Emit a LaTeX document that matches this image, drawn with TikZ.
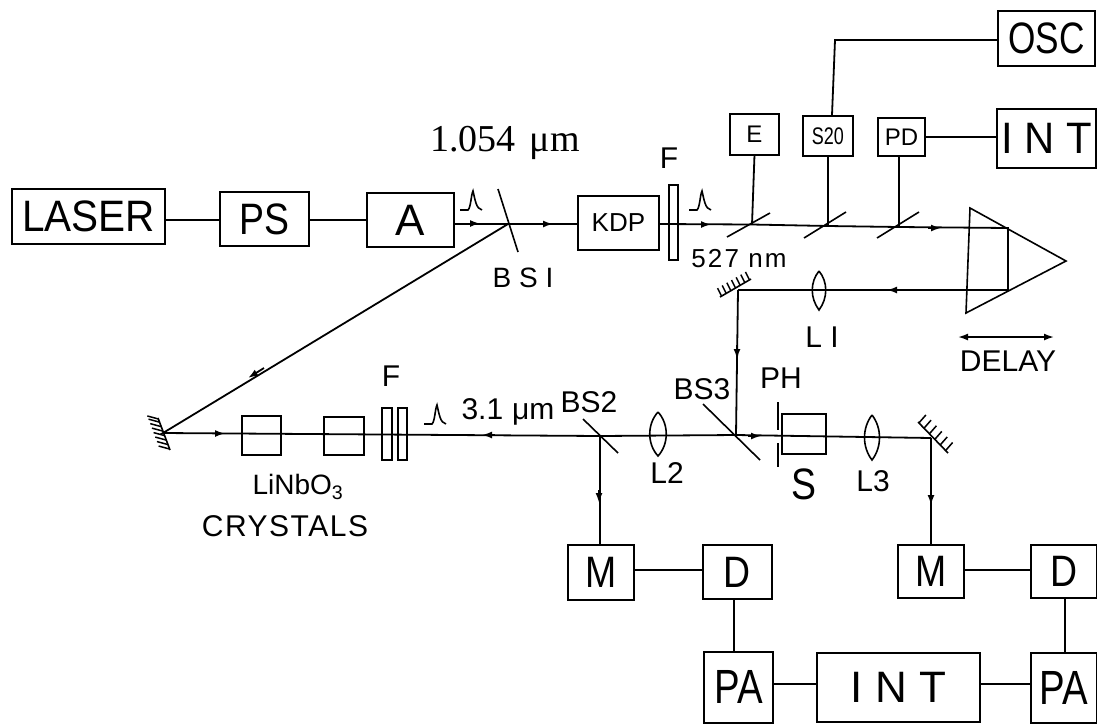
\documentclass[tikz,border=0pt]{standalone}
\usepackage{graphicx}
\usepackage{fontspec}
\setmainfont{Liberation Sans}
\newfontfamily\serifrm{Liberation Serif}
\usetikzlibrary{arrows.meta,calc}
\tikzset{
  x=1pt,y=-1pt,
  beam/.style={line width=1.8pt,black},
  wire/.style={line width=1.8pt,black},
  boxn/.style={draw,line width=1.9pt,inner sep=0pt,anchor=north west,align=center},
  opt/.style={draw,line width=1.6pt},
  lab/.style={inner sep=0pt},
  tip/.style={-{Latex[length=10pt,width=7pt]},line width=1.8pt},
  tooth/.style={line width=1.5pt},
}
\newcommand{\bx}[7]{\node[boxn,minimum width=#4pt,minimum height=#5pt,font=\fontsize{#6}{#6}\selectfont] (#1) at (#2,#3) {#7};}
\newcommand{\pulse}[2]{\draw[line width=1.6pt] (#1-13,#2+9) -- (#1-5,#2+9) .. controls (#1-2,#2+6) and (#1-2,#2-6) .. (#1,#2-10) .. controls (#1+2,#2-2) and (#1+3,#2+8) .. (#1+9,#2+9);}
\newcommand{\nr}[2]{\scalebox{#1}[1]{#2}}
\begin{document}
\begin{tikzpicture}
\useasboundingbox (0,0) rectangle (1097,724);
% boxes
\bx{laser}{11}{188}{153}{55}{44}{\nr{.92}{LASER}}
\bx{ps}{219}{191}{89}{54}{44}{\nr{.85}{PS}}
\bx{a}{366}{192}{87}{54}{44}{A}
\bx{kdp}{577}{195}{81}{54}{26}{KDP}
\bx{e}{729}{113}{49}{41}{24}{E}
\bx{stw}{802}{115}{50}{40}{24}{\nr{.75}{S20}}
\bx{pd}{877}{117}{47}{38}{24}{PD}
\bx{int1}{996}{108}{99}{59}{44}{\nr{.95}{I N T}}
\bx{osc}{997}{10}{97}{55}{44}{\nr{.8}{OSC}}
\bx{c1}{241}{415}{39}{39}{1}{}
\bx{c2}{323}{416}{40}{38}{1}{}
\bx{s}{781}{413}{44}{40}{1}{}
\bx{m1}{567}{544}{66}{55}{44}{\nr{.85}{M}}
\bx{d1}{702}{544}{69}{54}{44}{\nr{.85}{D}}
\bx{m2}{897}{544}{66}{53}{44}{\nr{.85}{M}}
\bx{d2}{1030}{544}{66}{53}{44}{\nr{.85}{D}}
\bx{pa1}{703}{651}{69}{71}{48}{\nr{.8}{PA}}
\bx{int2}{816}{652}{163}{69}{44}{I N T}
\bx{pa2}{1030}{652}{66}{70}{48}{\nr{.8}{PA}}
% coordinates
\coordinate (bs1) at (508,224);
\coordinate (p1) at (1008,228);
\coordinate (p2) at (1008,290);
\coordinate (mtop) at (738,290);
\coordinate (mleft) at (163,433);
\coordinate (bs2) at (600,436);
\coordinate (bs3) at (736,435);
\coordinate (mright) at (931,438);
\coordinate (se) at (752,224.5);
\coordinate (ss) at (828,226);
\coordinate (sp) at (899,227);
% wires
\draw[wire] (laser.east|-0,220) -- (ps.west|-0,220);
\draw[wire] (ps.east|-0,220) -- (a.west|-0,220);
\draw[wire] (832,115) -- (835,40) -- (osc.west|-0,40);
\draw[wire] (pd.east) -- (int1.west|-pd.east);
\draw[wire] (m1.east|-0,570) -- (d1.west|-0,570);
\draw[wire] (m2.east|-0,570) -- (d2.west|-0,570);
\draw[wire] (734,598) -- (734,651);
\draw[wire] (1065,597) -- (1065,652);
\draw[wire] (pa1.east|-0,684) -- (int2.west|-0,684);
\draw[wire] (int2.east|-0,684) -- (pa2.west|-0,684);
% beams
\draw[beam] (a.east|-bs1) -- (bs1) -- (kdp.west|-bs1);
\draw[beam] (kdp.east|-bs1) -- (se) -- (ss) -- (sp) -- (p1) -- (p2) -- (mtop);
\draw[beam] (bs1) -- (mleft) -- (bs2) -- (bs3) -- (mright);
\draw[beam] (mtop) -- (bs3);
\draw[beam] (bs2) -- (m1.north-|bs2);
\draw[beam] (mright) -- (m2.north-|mright);
\draw[wire] (e.south) -- (se);
\draw[wire] (ss|-stw.south) -- (ss);
\draw[wire] (sp|-pd.south) -- (sp);
% arrowheads on beams
\draw[tip] (468,223.5) -- (480,223.5);
\draw[tip] (540,224) -- (553,224);
\draw[tip] (698,224.5) -- (711,224.5);
\draw[tip] (928,228) -- (941,228);
\draw[tip] (900,290) -- (887,290);
\draw[tip] (737,345) -- (737,359);
\draw[tip] (264,368) -- (248,378);
\draw[tip] (212,433.5) -- (225,433.5);
\draw[tip] (495,435) -- (482,435);
\draw[tip] (748,436) -- (761,436);
\draw[tip] (599,490) -- (599,503);
\draw[tip] (931,492) -- (931,505);
% splitters
\draw[opt] (498,189) -- (518,252);
\draw[opt] (727,237) -- (770,213);
\draw[opt] (804,238) -- (846,212);
\draw[opt] (877,238) -- (919,212);
\draw[opt] (703,404) -- (760,460);
\draw[opt] (583,419) -- (618,453);
% plates
\draw[opt] (669,185) rectangle (678,260);
\draw[opt] (382,408) rectangle (392,460);
\draw[opt] (398,408) rectangle (407,460);
% prism
\draw[opt] (970,208) -- (1066,261) -- (966,313) -- cycle;
% lenses
\draw[opt] (819,271) .. controls (810,282) and (810,298) .. (819,310) .. controls (828,298) and (828,282) .. (819,271);
\draw[opt] (658,412) .. controls (647,424) and (647,444) .. (658,456) .. controls (669,444) and (669,424) .. (658,412);
\draw[opt] (872,415) .. controls (862,428) and (862,447) .. (872,460) .. controls (882,447) and (882,428) .. (872,415);
% aperture
\draw[opt] (778,402) -- (778,430);
\draw[opt] (778,443) -- (778,467);
% mirrors
\draw[opt] (720,297) -- (751,279);
\foreach \t in {0.05,0.2,0.35,0.5,0.65,0.8,0.95}
  \draw[tooth] ($(720,297)!\t!(751,279)$) -- ++(-4,-8);
\draw[opt] (170,450) -- (158,418);
\foreach \t in {0.03,0.17,0.31,0.45,0.59,0.73,0.87,0.97}
  \draw[tooth] ($(170,450)!\t!(158,418)$) -- ++(-11,-3);
\draw[opt] (918,422) -- (948,453);
\foreach \t in {0.03,0.2,0.38,0.56,0.74,0.92}
  \draw[tooth] ($(918,422)!\t!(948,453)$) -- ++(7,-8);
% delay arrow
\draw[{Latex[length=10pt,width=7pt]}-{Latex[length=10pt,width=7pt]},line width=1.7pt] (958,337) -- (1054,337);
% pulses
\pulse{473}{201}
\pulse{702}{201}
\pulse{437}{415}
% labels
\node[lab,font=\serifrm\fontsize{38}{38}\selectfont] (wl1) at (505,143) {1.054\hspace{14pt}μm};
\node[lab,font=\fontsize{28}{28}\selectfont] (bs1l) at (523,278) {B S I};
\node[lab,font=\fontsize{30}{30}\selectfont] (fa) at (669,158) {F};
\node[lab,font=\fontsize{26}{26}\selectfont\addfontfeature{LetterSpace=8}] (wl2) at (739,259) {527 nm};
\node[lab,font=\fontsize{30}{30}\selectfont] (l1) at (822,337) {L I};
\node[lab,font=\fontsize{30}{30}\selectfont] (delay) at (1008,361) {DELAY};
\node[lab,font=\fontsize{30}{30}\selectfont] (bs3l) at (702,389) {BS3};
\node[lab,font=\fontsize{30}{30}\selectfont] (ph) at (781,378) {PH};
\node[lab,font=\fontsize{30}{30}\selectfont] (l2) at (667,473) {L2};
\node[lab,font=\fontsize{44}{44}\selectfont] (sl) at (804,484) {\nr{.85}{S}};
\node[lab,font=\fontsize{30}{30}\selectfont] (l3) at (873,481) {L3};
\node[lab,font=\fontsize{30}{30}\selectfont] (fb) at (391,376) {F};
\node[lab,font=\fontsize{30}{30}\selectfont] (wl3) at (508,412) {3.1\hspace{9pt}μm};
\node[lab,font=\fontsize{30}{30}\selectfont] (bs2l) at (589,402) {BS2};
\node[lab,font=\fontsize{28}{28}\selectfont] (lin) at (298,487) {LiNbO\textsubscript{3}};
\node[lab,font=\fontsize{30}{30}\selectfont\addfontfeature{LetterSpace=5}] (cry) at (285,526) {CRYSTALS};
\end{tikzpicture}
\end{document}
